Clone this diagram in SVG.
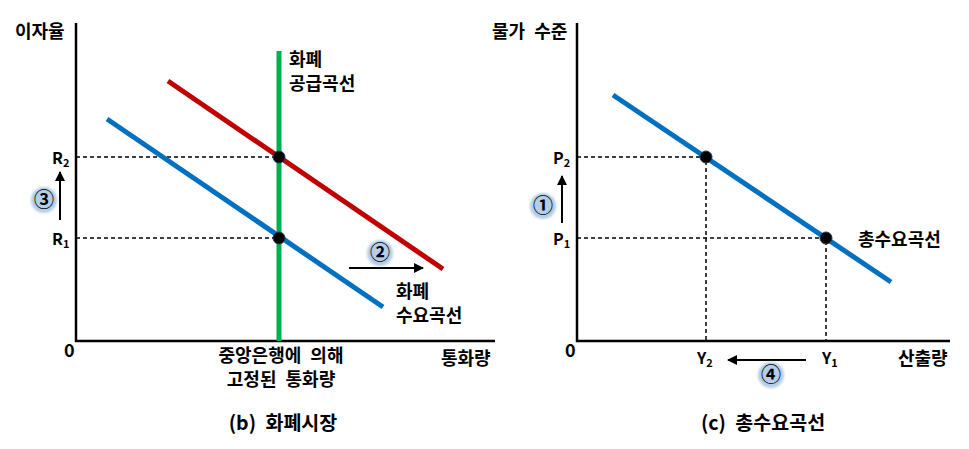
<svg xmlns="http://www.w3.org/2000/svg" width="969" height="449" viewBox="0 0 969 449">
<defs>
<style>
text{font-family:"Noto Sans CJK KR","Liberation Sans",sans-serif;font-size:18px;fill:#000}
.b{font-weight:bold}
.ax{stroke:#000;stroke-width:2.5;fill:none}
.dash{stroke:#000;stroke-width:1.5;stroke-dasharray:4,3;fill:none}
.red{stroke:#c00000;stroke-width:5;fill:none}
.blue{stroke:#0070c0;stroke-width:5;fill:none}
.green{stroke:#00b050;stroke-width:5;fill:none}
.dot{fill:#000;stroke:#1f3864;stroke-width:1}
.badge{fill:#b4cde8;filter:url(#soft)}
.arr{stroke:#000;stroke-width:2;fill:none;marker-end:url(#ah)}
.num{font-size:20px;text-anchor:middle}
.lab{font-size:16px}
.sub{font-size:11px}
.ttl{font-size:19.5px;text-anchor:middle}
.ws{word-spacing:5px}
</style>
<filter id="soft" x="-30%" y="-30%" width="160%" height="160%"><feGaussianBlur stdDeviation="0.8"/></filter>
<marker id="ah" viewBox="0 0 10 10" refX="9" refY="5" markerWidth="5.5" markerHeight="5" orient="auto" markerUnits="strokeWidth">
<path d="M0,0 L10,5 L0,10 z" fill="#000"/>
</marker>
</defs>
<rect width="969" height="449" fill="#fff"/>

<g id="panel-b">
<g id="axes-b">
<path class="ax" d="M76,23 V341 H495"/>
<text x="15" y="38" class="b">이자율</text>
<text x="64" y="357" class="b">0</text>
<text x="441" y="365" class="b">통화량</text>
</g>
<g id="connectors-b">
<path class="dash" d="M76,157 H279 M76,238 H279"/>
<line class="arr" x1="60" y1="220" x2="60" y2="172"/>
<line class="arr" x1="349" y1="268" x2="423" y2="268"/>
</g>
<g id="money-supply"><line class="green" x1="279" y1="51" x2="279" y2="341"/>
<text x="289" y="66" class="b">화폐</text><text x="289" y="90" class="b">공급곡선</text></g>
<g id="money-demand-new"><line class="red" x1="168" y1="81" x2="443" y2="269"/></g>
<g id="money-demand"><line class="blue" x1="107" y1="119" x2="383" y2="307"/>
<text x="396" y="298" class="b">화폐</text><text x="396" y="322" class="b">수요곡선</text></g>
<g id="pt-R2"><circle class="dot" cx="279" cy="157" r="6"/><text x="52" y="164" class="b lab">R<tspan class="sub" dy="3">2</tspan></text></g>
<g id="pt-R1"><circle class="dot" cx="279" cy="238" r="6"/><text x="52" y="245" class="b lab">R<tspan class="sub" dy="3">1</tspan></text></g>
<g id="badge-3"><circle class="badge" cx="44" cy="200" r="13"/><text x="44" y="207" class="num b">③</text></g>
<g id="badge-2"><circle class="badge" cx="380" cy="253" r="13"/><text x="380" y="260" class="num b">②</text></g>
<text x="281" y="362" text-anchor="middle" class="b ws">중앙은행에 의해</text>
<text x="281" y="386" text-anchor="middle" class="b ws">고정된 통화량</text>
<text x="283" y="430" class="b ttl ws">(b) 화폐시장</text>
</g>

<g id="panel-c">
<g id="axes-c">
<path class="ax" d="M577,23 V341 H950"/>
<text x="492" y="38" class="b ws">물가 수준</text>
<text x="565" y="357" class="b">0</text>
<text x="898" y="365" class="b">산출량</text>
</g>
<g id="connectors-c">
<path class="dash" d="M577,157 H706 V341 M577,238 H826 V341"/>
<line class="arr" x1="562" y1="223" x2="562" y2="176"/>
<line class="arr" x1="806" y1="360" x2="728" y2="360"/>
</g>
<g id="ad-curve"><line class="blue" x1="613" y1="95" x2="891" y2="282"/>
<text x="858" y="246" class="b">총수요곡선</text></g>
<g id="pt-P2"><circle class="dot" cx="706" cy="157" r="6"/><text x="553" y="164" class="b lab">P<tspan class="sub" dy="3">2</tspan></text></g>
<g id="pt-P1"><circle class="dot" cx="826" cy="238" r="6"/><text x="553" y="245" class="b lab">P<tspan class="sub" dy="3">1</tspan></text></g>
<text x="697" y="364" class="b lab">Y<tspan class="sub" dy="3">2</tspan></text>
<text x="822" y="364" class="b lab">Y<tspan class="sub" dy="3">1</tspan></text>
<g id="badge-1"><circle class="badge" cx="543" cy="206" r="13"/><text x="543" y="213" class="num b">①</text></g>
<g id="badge-4"><circle class="badge" cx="771" cy="375" r="13"/><text x="771" y="382" class="num b">④</text></g>
<text x="763" y="430" class="b ttl ws">(c) 총수요곡선</text>
</g>
</svg>
